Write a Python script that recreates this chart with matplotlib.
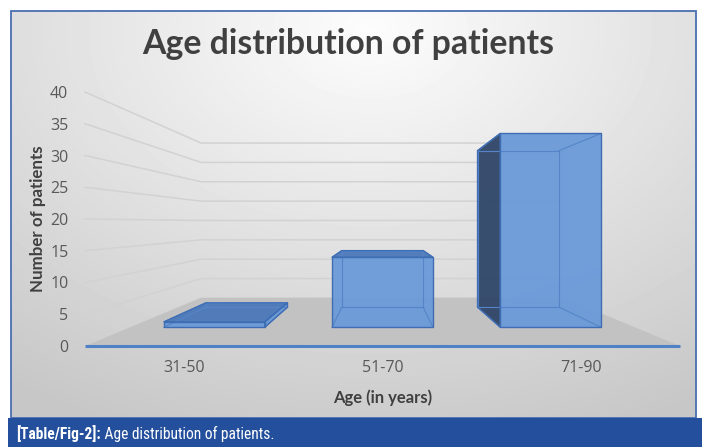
import matplotlib.pyplot as plt
from matplotlib.patches import Polygon, Rectangle
import numpy as np

categories = ["31-50", "51-70", "71-90"]
patients = [1, 13, 36]
y_ticks = [0, 5, 10, 15, 20, 25, 30, 35, 40]

title = "Age distribution of patients"
x_label = "Age (in years)"
y_label = "Number of patients"
caption_tag = "[Table/Fig-2]:"
caption_text = " Age distribution of patients."

W, H = 702, 447

# one-point perspective: vanishing point and how deep the floor goes
x_vp = np.mean(range(len(categories)))
v_vp = 19.4
depth_scale = 0.64
bar_width = 0.6
bar_d0, bar_d1 = 0.28, 0.72

caption_font = ["Roboto Condensed", "Liberation Sans Narrow", "Liberation Sans"]


def px_box(x0, y0, x1, y1):
  # pixel box (origin top left) -> figure fraction rect
  return [x0 / W, 1 - y1 / H, (x1 - x0) / W, (y1 - y0) / H]


def proj(x, v, d):
  k = 1.0 / (1.0 + depth_scale * d)
  return (x_vp + k * (x - x_vp), v_vp + k * (v - v_vp))


fig = plt.figure(figsize=(W / 100, H / 100), dpi=100)
fig.patch.set_facecolor("white")

# background, frame and caption bar
bg = fig.add_axes([0, 0, 1, 1])
bg.set_xlim(0, W)
bg.set_ylim(H, 0)
bg.axis("off")
yy, xx = np.mgrid[11:418, 11:696]
r = np.hypot((xx - 370) / 620.0, (yy - 30) / 430.0)
g = np.clip(0.99 - 0.21 * r, 0.78, 1.0)
bg.imshow(g, extent=(11, 696, 418, 11), cmap="gray", vmin=0, vmax=1,
          aspect="auto", interpolation="bilinear")
bg.add_patch(Rectangle((11, 11), 685, 407, fill=False, ec="#4a6fb0", lw=1.3))
bg.add_patch(Rectangle((8, 418), 694, 29, fc="#244f9c", ec="none"))

t1 = bg.text(16, 442, caption_tag, color="white", fontsize=11.2,
             weight="bold", family=caption_font, va="bottom")
bg.annotate(caption_text, xy=(1, 0), xycoords=t1, va="bottom", color="white",
            fontsize=11.2, family=caption_font)

fig.text(348 / W, 1 - 54 / H, title, ha="center", va="baseline",
         fontsize=24.3, weight="bold", color="#404040", family="Lato")
fig.text(38 / W, 1 - 219 / H, y_label, ha="center", va="center", rotation=90,
         fontsize=12.2, weight="bold", color="#404040", family="Lato")
fig.text(383 / W, 1 - 398 / H, x_label, ha="center", va="center",
         fontsize=12, weight="bold", color="#404040", family="Lato")

# chart axes: data coords = front plane of the 3D box
ax = fig.add_axes(px_box(85, 92, 680, 346))
ax.set_xlim(-0.5, len(categories) - 0.5)
ax.set_ylim(0, 40)
ax.patch.set_visible(False)
for s in ax.spines.values():
  s.set_visible(False)
ax.set_yticks(y_ticks)
ax.set_xticks(range(len(categories)), categories)
ax.tick_params(length=0, labelsize=11.5, labelcolor="#595959")
ax.tick_params(axis="y", pad=12)
ax.tick_params(axis="x", pad=10)
for lab in ax.get_xticklabels() + ax.get_yticklabels():
  lab.set_family("Open Sans")

xl, xr = -0.5, len(categories) - 0.5

# gridlines on side wall and back wall
for v in y_ticks:
  a = proj(xl, v, 0)
  b = proj(xl, v, 1)
  c = proj(xr, v, 1)
  ax.plot([a[0], b[0], c[0]], [a[1], b[1], c[1]], color="#d2d2d2", lw=1.1,
          zorder=1, clip_on=False)

# floor
floor = [proj(xl, 0, 0), proj(xr, 0, 0), proj(xr, 0, 1), proj(xl, 0, 1)]
ax.add_patch(Polygon(floor, closed=True, fc="#c2c2c2", ec="none", zorder=2))
ax.plot([xl, xr], [0, 0], color="#4f81c7", lw=2.2, zorder=3,
        solid_capstyle="butt", clip_on=False)

# bars
for i, val in enumerate(patients):
  x0, x1 = i - bar_width / 2, i + bar_width / 2
  d0, d1 = bar_d0, bar_d1
  P = {}
  for xn, xv in (("l", x0), ("r", x1)):
    for vn, vv in (("b", 0), ("t", val)):
      for dn, dv in (("f", d0), ("k", d1)):
        P[xn + vn + dn] = proj(xv, vv, dv)

  faces = []
  if x0 > x_vp:
    faces.append(([P["lbf"], P["lbk"], P["ltk"], P["ltf"]], "#2f4668"))
  if x1 < x_vp:
    faces.append(([P["rbf"], P["rbk"], P["rtk"], P["rtf"]], "#6a99d8"))
  if val < v_vp:
    faces.append(([P["ltf"], P["rtf"], P["rtk"], P["ltk"]], "#4b78b9"))
  faces.append(([P["lbf"], P["rbf"], P["rtf"], P["ltf"]], "#6b9ad9"))

  for pts, col in faces:
    ax.add_patch(Polygon(pts, closed=True, fc=col, ec="none", alpha=0.95,
                         zorder=4, clip_on=False))

  edges = [("lbk", "rbk"), ("rbk", "rtk"), ("rtk", "ltk"), ("ltk", "lbk"),
           ("lbf", "lbk"), ("rbf", "rbk"), ("ltf", "ltk"), ("rtf", "rtk")]
  for a, b in edges:
    ax.plot([P[a][0], P[b][0]], [P[a][1], P[b][1]], color="#5585c8", lw=0.8,
            zorder=5, clip_on=False)
  for pts, col in faces:
    ax.add_patch(Polygon(pts, closed=True, fill=False, ec="#3f6db3", lw=1,
                         zorder=6, clip_on=False))

fig.savefig("out.png", dpi=100)
